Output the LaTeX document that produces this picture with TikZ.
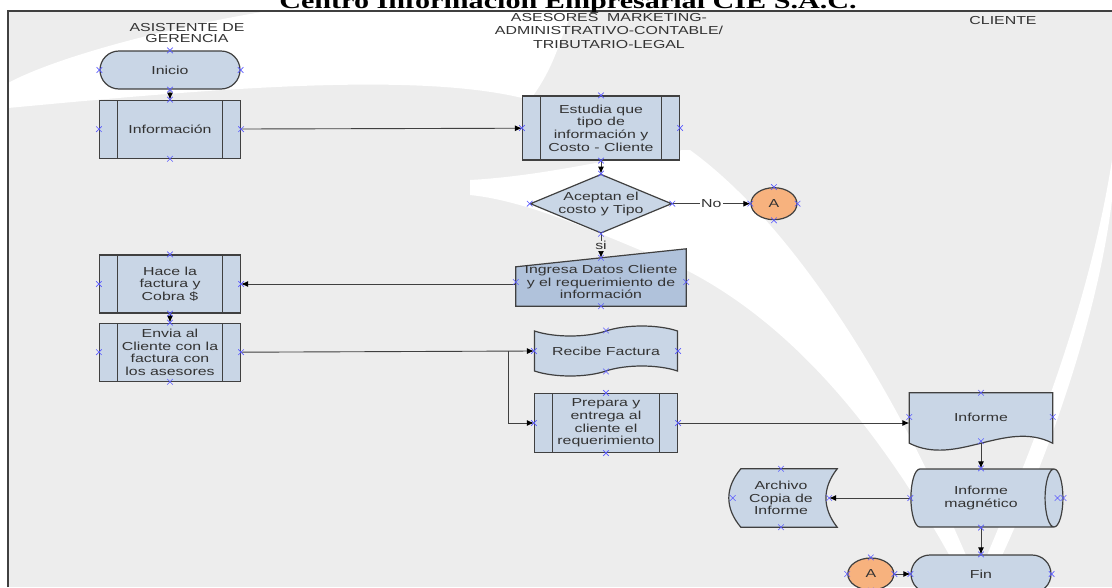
\documentclass[tikz,border=0pt]{standalone}
\usepackage{fontspec}
\setmainfont{Liberation Sans}[FakeStretch=1.37]
\newfontfamily\titlefont{Liberation Serif}[FakeStretch=1.37]
\usetikzlibrary{positioning, arrows.meta, shapes.geometric, shapes.misc, shapes.symbols}
\pgfdeclarelayer{bg}
\pgfdeclarelayer{back}
\pgfsetlayers{bg,back,main}

\definecolor{fondo}{HTML}{EDEDED}
\definecolor{caja}{HTML}{C9D6E6}
\definecolor{cajaosc}{HTML}{B0C2DB}
\definecolor{borde}{HTML}{404040}
\definecolor{naranja}{HTML}{F7B27E}
\definecolor{letra}{HTML}{333333}
\definecolor{punto}{HTML}{5A5AFF}

\tikzset{
  cuadro/.style={draw=borde, fill=caja, line width=1.2pt, align=center, inner sep=1pt},
  proceso/.style={cuadro, rectangle, minimum width=141pt, minimum height=58pt,
    path picture={\draw[draw=borde, line width=1.2pt]
      ([xshift=18pt]path picture bounding box.north west) -- ([xshift=18pt]path picture bounding box.south west)
      ([xshift=-18pt]path picture bounding box.north east) -- ([xshift=-18pt]path picture bounding box.south east);}},
  terminal/.style={cuadro, rounded rectangle, minimum width=142pt, minimum height=38pt},
  conector/.style={cuadro, ellipse, fill=naranja, minimum width=46pt, minimum height=32pt, inner sep=0pt},
  rotulo/.style={align=center, inner sep=1pt},
  fondoforma/.style={draw=borde, fill=caja, line width=1.2pt},
  flecha/.style={draw=borde, line width=0.9pt, -{Latex[length=7pt, width=6pt, color=black]}},
  etiqueta/.style={fill=fondo, inner sep=1pt},
  marca/.style={cross out, draw=punto, line width=0.6pt, minimum size=5pt, inner sep=0pt}
}

\begin{document}
\begin{tikzpicture}[x=1pt, y=-1pt, font=\fontsize{11.6}{12.7}\selectfont, text=letra]
  \useasboundingbox (0,0) rectangle (1112,587);

  % fondo y marco
  \begin{pgfonlayer}{bg}
    \fill[fondo] (8,11) rectangle (1112,587);
    \fill[white] (268,11) .. controls (180,25) and (60,55) .. (8,83) -- (8,108)
      .. controls (200,90) and (420,70) .. (530,100) .. controls (560,60) and (560,30) .. (575,11) -- cycle;
    \fill[white] (470,180) .. controls (560,175) and (640,150) .. (690,150)
      .. controls (800,230) and (900,400) .. (968,560) -- (952,560)
      .. controls (880,430) and (780,300) .. (640,250) .. controls (580,225) and (520,200) .. (470,195) -- cycle;
    \fill[white] (1112,160) .. controls (1090,300) and (1040,430) .. (985,560) -- (1000,560)
      .. controls (1060,430) and (1100,300) .. (1112,200) -- cycle;
  \end{pgfonlayer}
  \draw[black!75, line width=1.5pt] (8,587) -- (8,11) -- (1112,11);

  \node[font=\titlefont\bfseries\fontsize{22}{26}\selectfont, anchor=base, text=black] (titulo) at (568,8) {Centro Información Empresarial CIE S.A.C.};

  % carriles
  \node[rotulo, font=\fontsize{11.6}{11.5}\selectfont] (carril1) at (187,33) {ASISTENTE DE\\GERENCIA};
  \node[rotulo, font=\fontsize{11.6}{13.5}\selectfont] (carril2) at (609,31) {ASESORES~ MARKETING-\\ADMINISTRATIVO-CONTABLE/\\TRIBUTARIO-LEGAL};
  \node[rotulo] (carril3) at (1003,21) {CLIENTE};

  % asistente de gerencia
  \node[terminal] (inicio) at (170,70) {Inicio};
  \node[proceso, below=10pt of inicio] (info) {Información};
  \node[proceso] (hace) at (170,284) {Hace la\\factura y\\Cobra \$};
  \node[proceso, below=9pt of hace] (envia) {Envia al\\Cliente con la\\factura con\\los asesores};

  % asesores
  \node[proceso, minimum width=157pt, minimum height=64pt] (estudia) at (601,128) {Estudia que\\tipo de\\información y\\Costo - Cliente};
  \node[cuadro, diamond, aspect=2.4, inner sep=0pt, minimum width=141pt, minimum height=59pt, below=13pt of estudia] (decision) {Aceptan el\\costo y Tipo};
  \node[conector, right=78pt of decision] (aone) {A};
  \node[rotulo, minimum width=170pt, minimum height=48pt, below=24pt of decision] (ingresa) {Ingresa Datos Cliente\\y el requerimiento de\\información};
  \node[cuadro, tape, minimum width=143pt, minimum height=50pt, tape bend height=10pt] (recibe) at (606,351) {Recibe Factura};
  \node[proceso, minimum width=143pt, minimum height=59pt] (prepara) at (606,423) {Prepara y\\entrega al\\cliente el\\requerimiento};

  % cliente
  \node[rotulo, minimum width=143pt, minimum height=48pt] (informe) at (981,417) {Informe};
  \node[cuadro, cylinder, shape aspect=0.7, minimum width=58pt, minimum height=152pt] (magnetico) at (981,498) {Informe\\magnético};
  \node[rotulo, minimum width=96pt, minimum height=58pt] (archivo) at (781,498) {Archivo\\Copia de\\Informe};
  \node[terminal] (fin) at (981,574) {Fin};
  \node[conector, left=16pt of fin] (atwo) {A};

  % formas propias
  \begin{pgfonlayer}{back}
    \path[fondoforma, fill=cajaosc] ([yshift=-9pt]ingresa.north west) -- ([yshift=9pt]ingresa.north east)
      -- (ingresa.south east) -- (ingresa.south west) -- cycle;
    \path[fondoforma] (informe.north west) -- (informe.north east) -- ([yshift=-2pt]informe.south east)
      .. controls +(-47,-24) and +(47,24) .. ([yshift=-2pt]informe.south west) -- cycle;
    \path[fondoforma] ([xshift=8pt]archivo.north west) -- ([xshift=8pt]archivo.north east)
      .. controls +(-15,19) and +(-15,-19) .. ([xshift=8pt]archivo.south east) -- ([xshift=8pt]archivo.south west)
      .. controls +(-16,-19) and +(-16,19) .. ([xshift=8pt]archivo.north west) -- cycle;
  \end{pgfonlayer}

  % conexiones
  \draw[flecha] (inicio) -- (info);
  \draw[flecha] (info) -- (estudia);
  \draw[flecha] (estudia) -- (decision);
  \draw[flecha] (decision) -- node[etiqueta, fill=white] {No} (aone);
  \draw[flecha] (decision) -- node[etiqueta] {si} (ingresa);
  \draw[flecha] (ingresa.west |- hace.east) -- (hace.east);
  \draw[flecha] (hace) -- (envia);
  \draw[flecha] (envia.east) -- (recibe.west);
  \coordinate (reparto) at (508,351);
  \draw[flecha] (reparto) |- (prepara.west);
  \draw[flecha] (prepara.east) -- (prepara.east -| informe.west);
  \draw[flecha] ([yshift=-2pt]informe.south) -- (informe.south |- magnetico.north);
  \draw[flecha] (magnetico.west) -- (archivo.east);
  \draw[flecha] (fin.north |- magnetico.south) -- (fin.north);
  \draw[flecha] (atwo) -- (fin);

  % puntos de conexion
  \foreach \n in {inicio,info,hace,envia,estudia,decision,aone,ingresa,recibe,prepara,informe,magnetico,archivo,fin,atwo}
    \foreach \a in {north,south,east,west}
      \node[marca] (m-\n-\a) at (\n.\a) {};
  \node[marca] (m-magnetico-extra) at ([xshift=-6pt]magnetico.east) {};
\end{tikzpicture}
\end{document}
